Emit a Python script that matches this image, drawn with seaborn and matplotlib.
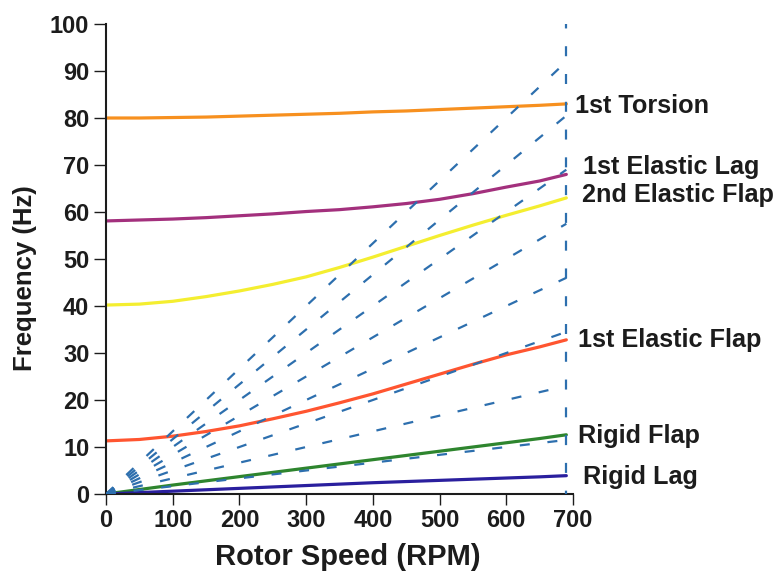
import matplotlib
matplotlib.use("Agg")
import matplotlib.pyplot as plt
import seaborn as sns
import pandas as pd

# Rotor speed stations (RPM) at which the blade modes were evaluated
rpm = [0, 50, 100, 150, 200, 250, 300, 350, 400, 450, 500, 550, 600, 650, 690]

# Blade natural frequencies (Hz) at each rotor speed
first_torsion = [80.0, 80.0, 80.1, 80.2, 80.4, 80.6, 80.8, 81.0,
                 81.3, 81.5, 81.8, 82.1, 82.4, 82.7, 83.0]
first_elastic_lag = [58.1, 58.3, 58.5, 58.8, 59.2, 59.6, 60.1, 60.5,
                     61.1, 61.8, 62.7, 63.9, 65.3, 66.6, 68.0]
second_elastic_flap = [40.2, 40.4, 41.0, 42.0, 43.2, 44.6, 46.2, 48.2,
                       50.4, 52.7, 55.0, 57.2, 59.3, 61.3, 63.0]
first_elastic_flap = [11.3, 11.6, 12.3, 13.3, 14.5, 16.0, 17.6, 19.4,
                      21.3, 23.4, 25.5, 27.6, 29.6, 31.3, 32.8]
rigid_flap = [0.0, 0.95, 1.9, 2.8, 3.7, 4.6, 5.5, 6.4,
              7.3, 8.2, 9.1, 10.0, 10.9, 11.8, 12.6]
rigid_lag = [0.0, 0.3, 0.6, 0.9, 1.2, 1.5, 1.8, 2.1,
             2.4, 2.65, 2.9, 3.15, 3.4, 3.65, 3.9]

mode_names = ["1st Torsion", "1st Elastic Lag", "2nd Elastic Flap",
              "1st Elastic Flap", "Rigid Flap", "Rigid Lag"]
mode_values = [first_torsion, first_elastic_lag, second_elastic_flap,
               first_elastic_flap, rigid_flap, rigid_lag]

# Per-rev excitation lines (1P ... 8P) ending at the maximum rotor speed
max_rpm = 690
per_rev_end_hz = [11.5, 23.0, 34.5, 46.0, 57.5, 69.0, 80.5, 92.0]

x_ticks = [0, 100, 200, 300, 400, 500, 600, 700]
y_ticks = [0, 10, 20, 30, 40, 50, 60, 70, 80, 90, 100]

# ---- styling ----
mode_colors = ["#f7901f", "#a3307d", "#f4ee30", "#ff5530", "#2e852e", "#2a1f9e"]
label_pos = [(703, 81.0), (715, 68.1), (714, 62.2),
             (708, 31.2), (708, 10.8), (715, 2.1)]
fan_color = "#2d6fae"
ink = "#1c1c1c"

sns.set_theme(style="ticks")
plt.rcParams["font.family"] = ["Liberation Sans", "DejaVu Sans"]
plt.rcParams["font.weight"] = "bold"

fig = plt.figure(figsize=(7.8, 5.73), dpi=100)
ax = fig.add_axes([106 / 780, 1 - 494 / 573, (573 - 106) / 780, (494 - 24) / 573])

# Mode curves
modes = pd.DataFrame(
    [(name, r, f) for name, vals in zip(mode_names, mode_values)
     for r, f in zip(rpm, vals)],
    columns=["mode", "rpm", "hz"],
)
sns.lineplot(data=modes, x="rpm", y="hz", hue="mode",
             palette=dict(zip(mode_names, mode_colors)),
             linewidth=2.3, legend=False, ax=ax, zorder=2)

# Per-rev fan lines
for end_hz in per_rev_end_hz:
    sns.lineplot(x=[0, max_rpm], y=[0, end_hz], ax=ax, color=fan_color,
                 linewidth=1.6, linestyle=(0, (4.5, 8.0)), zorder=3)
ax.vlines(max_rpm, 0, 100, color=fan_color, linewidth=1.6,
          linestyles=[(3.0, (4.5, 8.0))], zorder=3, clip_on=False)

# Mode labels at the right edge
for name, (lx, ly) in zip(mode_names, label_pos):
    ax.text(lx, ly, name, fontsize=18.2, fontweight="bold", color=ink,
            va="baseline", ha="left", clip_on=False)

ax.set_xlim(0, 700)
ax.set_ylim(0, 100)
ax.set_xticks(x_ticks)
ax.set_yticks(y_ticks)
ax.set_xticklabels([str(v) for v in x_ticks], fontsize=17, fontweight="bold", color=ink)
ax.set_yticklabels([str(v) for v in y_ticks], fontsize=17, fontweight="bold", color=ink)
ax.tick_params(axis="x", direction="out", length=8, width=1, pad=2.5, color=ink)
ax.tick_params(axis="y", direction="out", length=9, width=1, pad=3, color=ink)

ax.set_xlabel("Rotor Speed (RPM)", fontsize=21, fontweight="bold", color=ink)
ax.set_ylabel("Frequency (Hz)", fontsize=18.5, fontweight="bold", color=ink)
ax.xaxis.label.set_va("baseline")
ax.yaxis.label.set_va("baseline")
ax.xaxis.set_label_coords(0.518, -0.151)
ax.yaxis.set_label_coords(-0.159, 0.4585)

sns.despine(ax=ax)
for side in ("left", "bottom"):
    ax.spines[side].set_linewidth(1.5)
    ax.spines[side].set_color(ink)

fig.savefig("out.png", dpi=100, facecolor="white")
